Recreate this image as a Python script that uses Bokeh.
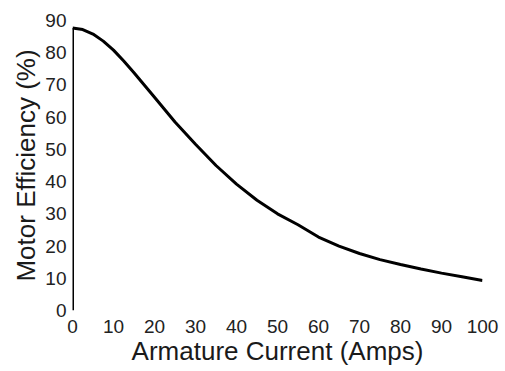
from bokeh.plotting import figure
from bokeh.models import Range1d, FixedTicker
from bokeh.embed import file_html
from bokeh.resources import INLINE

# Motor efficiency versus armature current
current_amps = [0, 2.5, 5, 7.5, 10, 12.5, 15, 17.5, 20, 25, 30, 35, 40, 45, 50, 55, 60,
                65, 70, 75, 80, 85, 90, 95, 100]
efficiency_pct = [87.7, 87.2, 85.8, 83.6, 80.8, 77.4, 73.8, 70.0, 66.2, 58.5, 51.6, 45.0,
                  39.2, 34.2, 30.0, 26.6, 22.8, 20.0, 17.7, 15.8, 14.3, 12.9, 11.6, 10.5, 9.3]

x_ticks = [0, 10, 20, 30, 40, 50, 60, 70, 80, 90, 100]
y_ticks = [0, 10, 20, 30, 40, 50, 60, 70, 80, 90]

FONT = "Liberation Sans"

p = figure(width=505, height=371, output_backend="svg", toolbar_location=None,
           x_range=Range1d(0, 100), y_range=Range1d(0, 90),
           min_border_left=72, min_border_right=23, min_border_top=20, min_border_bottom=61)
p.outline_line_color = None
p.xgrid.visible = False
p.ygrid.visible = False
p.background_fill_color = "white"
p.border_fill_color = "white"

# vertical axis line drawn from the origin up to the curve's first point
p.line([current_amps[0], current_amps[0]], [0, efficiency_pct[0]], line_color="black", line_width=3)

# efficiency curve
p.line(current_amps, efficiency_pct, line_color="black", line_width=3)

for ax in (p.xaxis[0], p.yaxis[0]):
    ax.axis_line_color = None
    ax.major_tick_line_color = None
    ax.minor_tick_line_color = None
    ax.major_tick_out = 0
    ax.major_tick_in = 0
    ax.major_label_text_font = FONT
    ax.major_label_text_font_size = "19px"
    ax.major_label_text_color = "#222222"
    ax.axis_label_text_font = FONT
    ax.axis_label_text_font_size = "26px"
    ax.axis_label_text_font_style = "normal"
    ax.axis_label_text_color = "#1a1a1a"

p.xaxis.ticker = FixedTicker(ticks=x_ticks)
p.yaxis.ticker = FixedTicker(ticks=y_ticks)
p.xaxis.axis_label = "Armature Current (Amps)"
p.yaxis.axis_label = "Motor Efficiency (%)"
p.xaxis.major_label_standoff = 9
p.yaxis.major_label_standoff = 6
p.xaxis.axis_label_standoff = 0
p.yaxis.axis_label_standoff = 1

open("out.html", "w").write(file_html(p, INLINE))
